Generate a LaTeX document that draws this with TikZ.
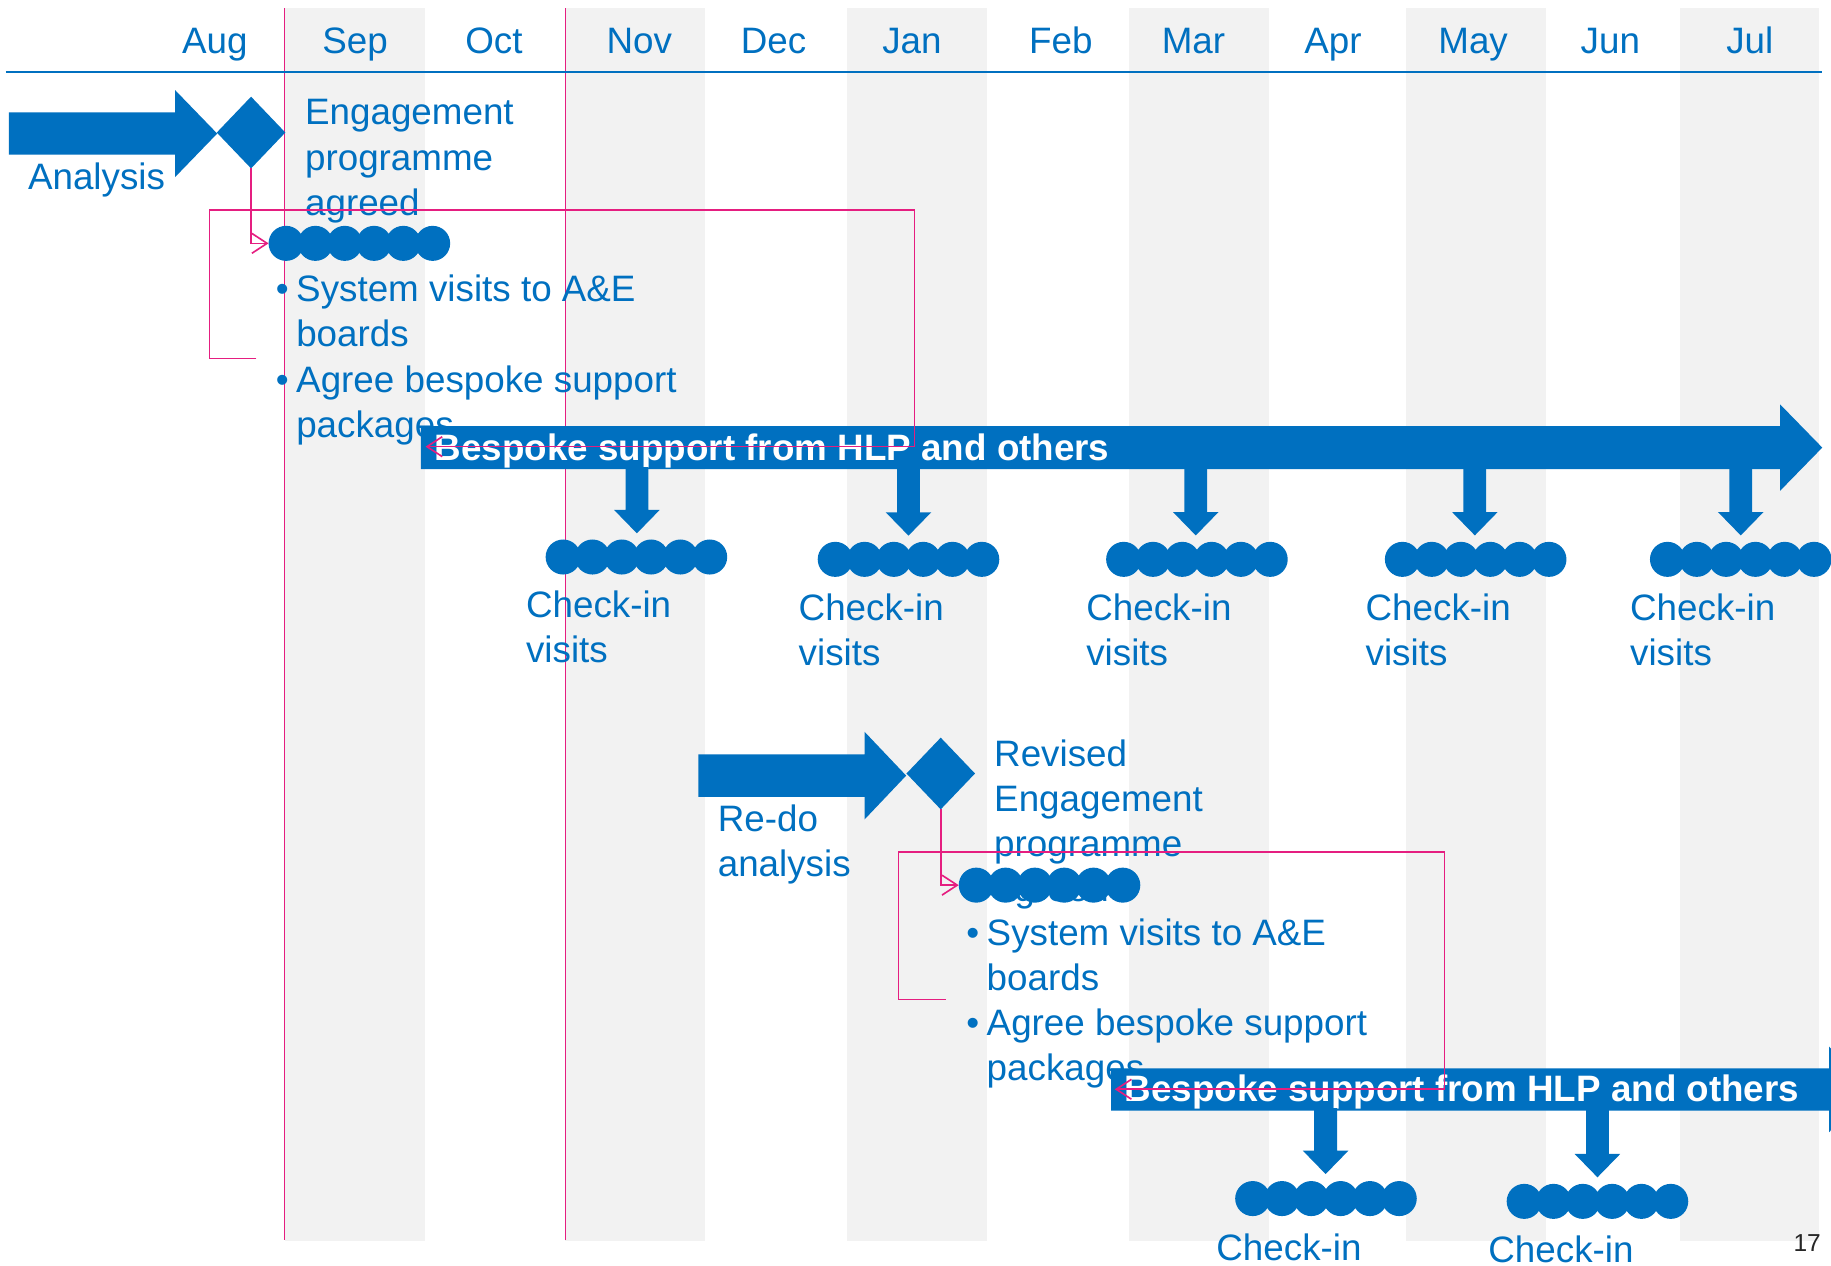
\documentclass[tikz,border=0pt]{standalone}
\usepackage{fontspec}
\setmainfont{Liberation Sans}
\usetikzlibrary{arrows.meta,shapes.geometric}

\definecolor{planblue}{RGB}{0,112,192}
\definecolor{linkpink}{RGB}{229,30,128}
\definecolor{bandgrey}{RGB}{242,242,242}

\tikzset{
  lbl/.style={text=planblue, font=\fontsize{31.5}{38.6}\selectfont, inner sep=0pt, outer sep=0pt, anchor=base west},
  month/.style={text=planblue, font=\fontsize{31.5}{38.6}\selectfont, inner sep=0pt, anchor=base},
  bartext/.style={text=white, font=\bfseries\fontsize{31.5}{38.6}\selectfont, inner sep=0pt, anchor=base west},
  milestone/.style={diamond, fill=planblue, inner sep=0pt, outer sep=0pt, minimum width=58.7pt, minimum height=61.4pt},
  visitrow/.style={rectangle, inner sep=0pt, outer sep=0pt, minimum width=155.5pt, minimum height=30pt},
  link/.style={draw=linkpink, line width=1.4pt, -{Straight Barb[length=13pt,width=17pt]}},
  monthrule/.style={draw=linkpink, line width=0.8pt},
}

% stacked lines whose baseline is that of the first line
\newcommand\lines[1]{\begin{tabular}[t]{@{}l@{}}#1\end{tabular}}
% bullet hung in the left margin of a list line
\newcommand\blt{\llap{•\hspace{6.5pt}}}

% a row of six overlapping visit dots: name, centre x, centre y
\newcommand\visitdots[3]{%
  \node[visitrow] (#1) at (#2,#3) {};
  \foreach \k in {0,...,5}
    \fill[planblue] ([xshift=15pt+\k*25.1pt]#1.west) circle[radius=15pt];
}

% horizontal block arrow: x start, head base x, tip x, centre y, body half height, head half height
\newcommand\blockarrow[6]{%
  \fill[planblue] (#1,#4-#5) -- (#2,#4-#5) -- (#2,#4-#6) -- (#3,#4)
    -- (#2,#4+#6) -- (#2,#4+#5) -- (#1,#4+#5) -- cycle;
}

% downward drop arrow: centre x, top y, tip y
\newcommand\droparrow[3]{%
  \fill[planblue] (#1-9.75,#2) -- (#1+9.75,#2) -- (#1+9.75,#3-20) -- (#1+19.5,#3-20)
    -- (#1,#3) -- (#1-19.5,#3-20) -- (#1-9.75,#3-20) -- cycle;
}

\begin{document}
\begin{tikzpicture}[x=1pt,y=-1pt]
\useasboundingbox (0,0) rectangle (1568,1084);
\fill[white] (0,0) rectangle (1568,1084);

% alternating month bands
\foreach \a/\b in {244/364,484/604,725/845,967/1087,1204/1324,1439/1558}
  \fill[bandgrey] (\a,7) rectangle (\b,1063);
\draw[monthrule] (244,7) -- (244,1062);
\draw[monthrule] (484,7) -- (484,1062);

% month header
\draw[planblue, line width=1.6pt] (5,62) -- (1560,62);
\foreach \m/\x in {Aug/184,Sep/304,Oct/423,Nov/547.5,Dec/662.5,Jan/781,Feb/908.5,Mar/1022,Apr/1141.5,May/1261.5,Jun/1379,Jul/1498.5}
  \node[month] (m-\m) at (\x,45.7) {\m};

% labels that the shapes partly cover
\node[lbl] (engage) at (261.3,107) {\lines{Engagement\\programme\\agreed}};
\node[lbl] (tasks1) at (253.7,258.5) {\lines{\blt System visits to A\&E\\boards\\\blt Agree bespoke support\\packages}};
\node[lbl] (revised) at (851.4,656) {\lines{Revised\\Engagement\\programme\\agreed}};
\node[lbl] (tasks2) at (845,809.7) {\lines{\blt System visits to A\&E\\boards\\\blt Agree bespoke support\\packages}};

% first cycle
\blockarrow{7.5}{150}{186}{114.4}{18.1}{37.2}
\node[milestone] (ms1) at (215,113.5) {};
\node[lbl] (analysis) at (24,162.7) {Analysis};
\visitdots{eng1}{307.75}{208.4}
\blockarrow{360.5}{1524.4}{1560.5}{383.3}{18.4}{37}
\node[bartext] (bar1) at (372.3,394) {Bespoke support from HLP and others};
\droparrow{545.4}{400}{456.7}
\droparrow{778}{400}{458.7}
\droparrow{1024}{400}{458.5}
\droparrow{1263}{400}{458.5}
\droparrow{1490.7}{400}{458.5}
\visitdots{ck1}{545}{477}
\visitdots{ck2}{778}{479}
\visitdots{ck3}{1025}{479}
\visitdots{ck4}{1263.7}{479}
\visitdots{ck5}{1490.7}{479}
\node[lbl] (cl1) at (450.5,529) {\lines{Check-in\\visits}};
\node[lbl] (cl2) at (684,531) {\lines{Check-in\\visits}};
\node[lbl] (cl3) at (930.3,531) {\lines{Check-in\\visits}};
\node[lbl] (cl4) at (1169.5,531) {\lines{Check-in\\visits}};
\node[lbl] (cl5) at (1396,531) {\lines{Check-in\\visits}};

% second cycle
\blockarrow{598}{740.5}{776}{664.2}{18.2}{37.4}
\node[milestone] (ms2) at (805.6,662.4) {};
\node[lbl] (redo) at (614.7,712.3) {\lines{Re-do\\analysis}};
\visitdots{eng2}{898.75}{758}
\blockarrow{951.5}{1566.3}{1602}{932.9}{18.1}{36.7}
\node[bartext] (bar2) at (963,943.5) {Bespoke support from HLP and others};
\droparrow{1135.2}{949}{1005.4}
\droparrow{1368}{949}{1008.2}
\visitdots{ck6}{1135.5}{1026.4}
\visitdots{ck7}{1368}{1028.8}
\node[lbl] (cl6) at (1041.7,1079.5) {Check-in};
\node[lbl] (cl7) at (1274.6,1081) {Check-in};

% pink links
\coordinate (loop1) at (219.6,306.9);
\coordinate (bar1in) at (364.4,382.5);
\draw[link] (ms1.south) |- (eng1.west);
\draw[link] (loop1) -| (179.4,179.8) -| (783,382.5) -- (bar1in);
\coordinate (loop2) at (810,856);
\coordinate (bar2in) at (954.6,932.8);
\draw[link] (ms2.south) |- (eng2.west);
\draw[link] (loop2) -| (769.5,729.7) -| (1237.1,932.8) -- (bar2in);

% page number
\node[font=\fontsize{21}{25}\selectfont, text=black!85, inner sep=0pt, anchor=base east] (pageno) at (1559.5,1072) {17};
\end{tikzpicture}
\end{document}
